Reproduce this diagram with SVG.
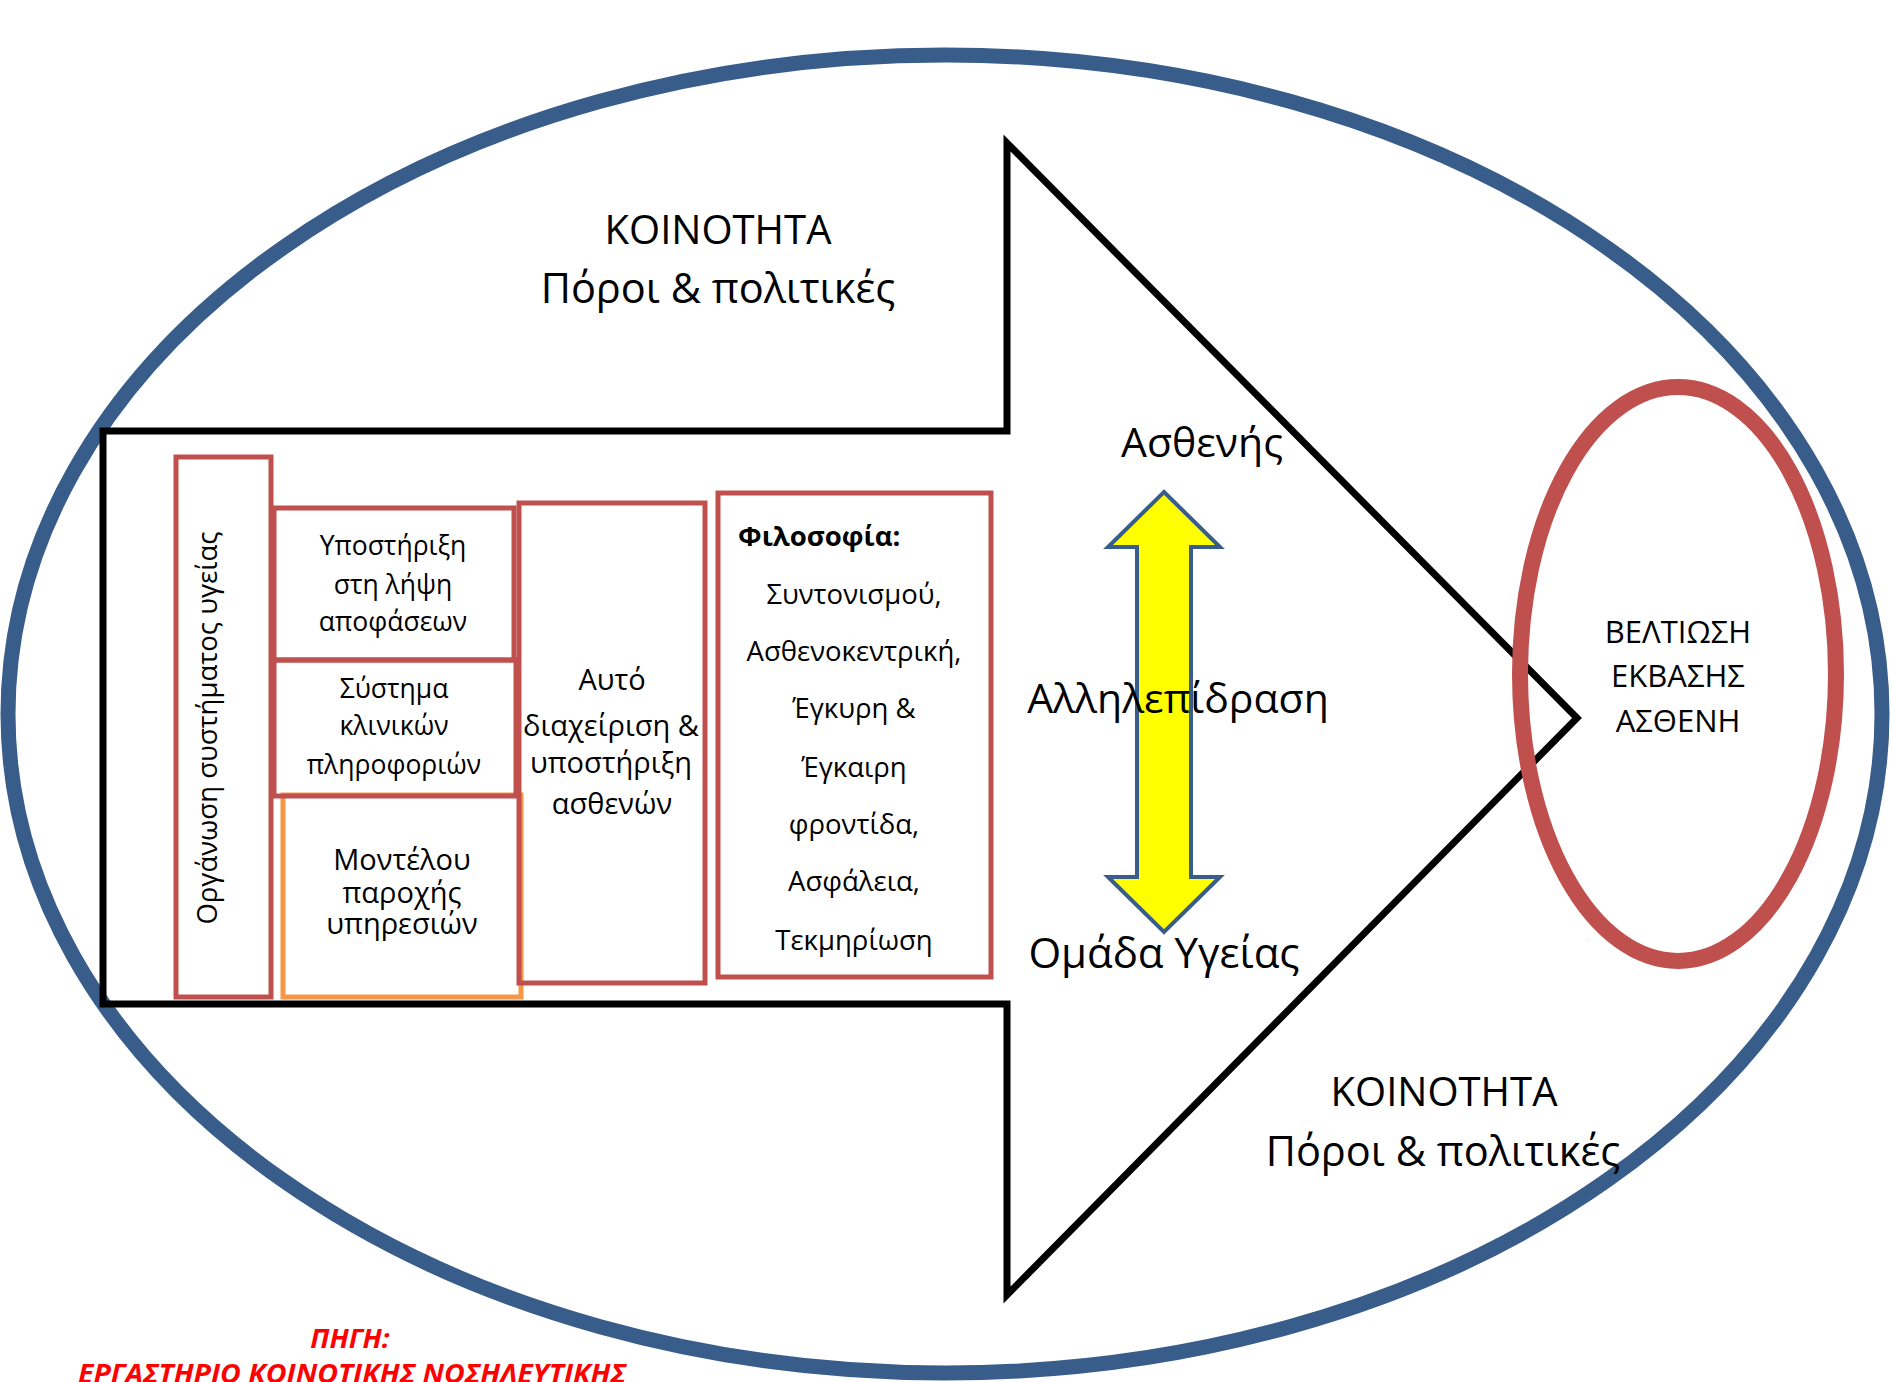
<svg xmlns="http://www.w3.org/2000/svg" width="1892" height="1382" viewBox="0 0 1892 1382">
<style>
text{font-family:"Open Sans","Noto Sans","DejaVu Sans",sans-serif;fill:#000}
.big{font-size:40px;text-anchor:middle}
.box{font-size:26.5px;text-anchor:middle}
.box2{font-size:29px;text-anchor:middle}
.phil{font-size:27.5px;text-anchor:middle}
.red{fill:none;stroke:#c0504d;stroke-width:5}
.org{fill:none;stroke:#f79646;stroke-width:5}
.src{font-size:27.5px;font-weight:bold;font-style:italic;fill:#ff0000;text-anchor:middle}
</style>
<rect width="1892" height="1382" fill="#fff"/>
<g id="community">
<ellipse cx="945" cy="714" rx="937" ry="659" fill="none" stroke="#385d8a" stroke-width="15"/>
</g>
<g id="main-arrow">
<path d="M103,431 H1007 V143 L1577,718 L1007,1295 V1004 H103 Z" fill="none" stroke="#000" stroke-width="7" stroke-miterlimit="10"/>
</g>
<g id="outcome">
<ellipse cx="1678" cy="674" rx="158" ry="287" fill="none" stroke="#c0504d" stroke-width="16"/>
<text x="1678" y="643" style="font-size:31px;text-anchor:middle">ΒΕΛΤΙΩΣΗ</text>
<text x="1678" y="687" style="font-size:31px;text-anchor:middle">ΕΚΒΑΣΗΣ</text>
<text x="1678" y="732" style="font-size:31px;text-anchor:middle">ΑΣΘΕΝΗ</text>
</g>
<g id="community-top">
<text class="big" x="718" y="244">ΚΟΙΝΟΤΗΤΑ</text>
<text class="big" x="718" y="303" style="font-size:41.5px">Πόροι &amp; πολιτικές</text>
</g>
<g id="community-bottom">
<text class="big" x="1444" y="1106">ΚΟΙΝΟΤΗΤΑ</text>
<text class="big" x="1443" y="1166" style="font-size:41.5px">Πόροι &amp; πολιτικές</text>
</g>
<g id="box-organisation">
<rect class="red" x="176" y="457" width="95" height="540"/>
<text transform="translate(217,728) rotate(-90)" style="font-size:27.5px;text-anchor:middle">Οργάνωση συστήματος υγείας</text>
</g>
<g id="box-models">
<rect class="org" x="283" y="795" width="238" height="202"/>
<text class="box2" x="402" y="870">Μοντέλου</text>
<text class="box2" x="402" y="903">παροχής</text>
<text class="box2" x="402" y="934">υπηρεσιών</text>
</g>
<g id="box-decision">
<rect class="red" x="274" y="508" width="240" height="152"/>
<text class="box" x="393" y="555">Υποστήριξη</text>
<text class="box" x="393" y="594">στη λήψη</text>
<text class="box" x="393" y="631">αποφάσεων</text>
</g>
<g id="box-clinical">
<rect class="red" x="274" y="660" width="242" height="136"/>
<text class="box" x="394" y="698">Σύστημα</text>
<text class="box" x="394" y="735">κλινικών</text>
<text class="box" x="394" y="774">πληροφοριών</text>
</g>
<g id="box-selfmanagement">
<rect class="red" x="519" y="503" width="186" height="480"/>
<text class="box2" x="612" y="690">Αυτό</text>
<text class="box2" x="611" y="736">διαχείριση &amp;</text>
<text class="box2" x="611" y="773">υποστήριξη</text>
<text class="box2" x="612" y="814">ασθενών</text>
</g>
<g id="box-philosophy">
<rect class="red" x="718" y="493" width="273" height="484"/>
<text x="738" y="546" style="font-size:27.5px;font-weight:bold">Φιλοσοφία:</text>
<text class="phil" x="854" y="604">Συντονισμού,</text>
<text class="phil" x="854" y="661">Ασθενοκεντρική,</text>
<text class="phil" x="854" y="718">Έγκυρη &amp;</text>
<text class="phil" x="854" y="777">Έγκαιρη</text>
<text class="phil" x="854" y="834">φροντίδα,</text>
<text class="phil" x="854" y="891">Ασφάλεια,</text>
<text class="phil" x="854" y="950">Τεκμηρίωση</text>
</g>
<g id="connectors">
<path d="M1164,492 L1220,547 H1191 V877 H1220 L1164,932 L1108,877 H1137 V547 H1108 Z" fill="#ffff00" stroke="#385d8a" stroke-width="4" stroke-linejoin="miter"/>
</g>
<g id="label-patient">
<text class="big" x="1202" y="457" style="font-size:41px">Ασθενής</text>
</g>
<g id="label-interaction">
<text class="big" x="1178" y="713" style="font-size:41px">Αλληλεπίδραση</text>
</g>
<g id="label-team">
<text class="big" x="1164" y="968" style="font-size:42px">Ομάδα Υγείας</text>
</g>
<g id="source">
<text class="src" x="350" y="1348">ΠΗΓΗ:</text>
<text class="src" x="352" y="1383" textLength="548" lengthAdjust="spacingAndGlyphs">ΕΡΓΑΣΤΗΡΙΟ ΚΟΙΝΟΤΙΚΗΣ ΝΟΣΗΛΕΥΤΙΚΗΣ</text>
</g>
</svg>
